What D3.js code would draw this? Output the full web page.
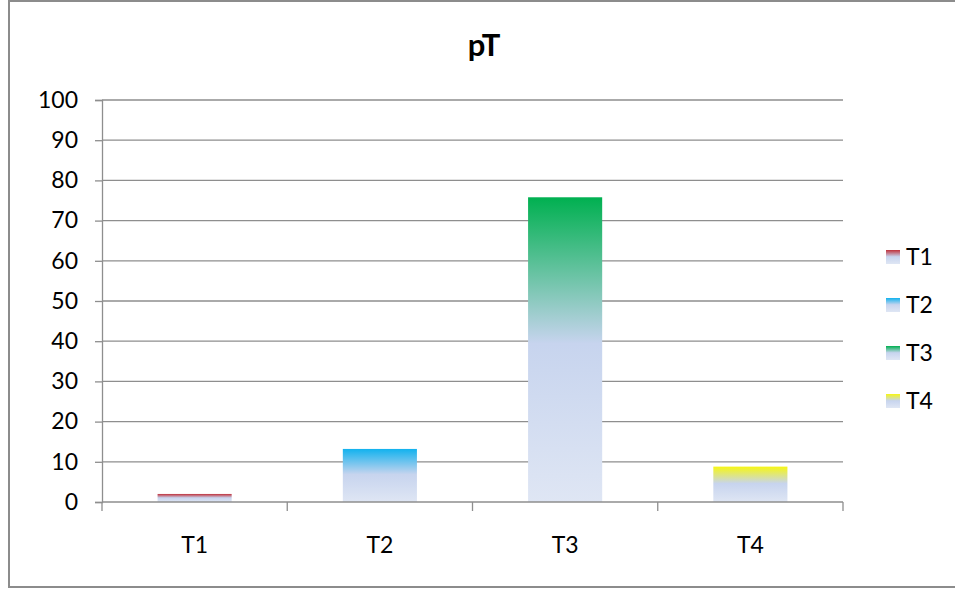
<!DOCTYPE html>
<html>
<head>
<meta charset="utf-8">
<script src="https://cdn.jsdelivr.net/npm/d3@7"></script>
<style>
  html, body { margin: 0; padding: 0; background: #fff; }
  svg { display: block; }
  text { font-family: Lato, "Liberation Sans", sans-serif; fill: #000; }
</style>
</head>
<body>
<svg id="chart" width="955" height="592"></svg>
<script>
// pT distribution by stage
const categories = ["T1", "T2", "T3", "T4"];
const values = [2.0, 13.2, 75.8, 8.8];
const seriesColors = ["#c0303a", "#12b2ee", "#00b050", "#f6f614"];
const yTicks = [0, 10, 20, 30, 40, 50, 60, 70, 80, 90, 100];
const title = "pT";

const svg = d3.select("#chart");
const plot = { left: 102, right: 843, top: 100, bottom: 502 };
const labelSize = "23px";

// outer frame (runs off the right edge)
svg.append("rect")
  .attr("x", 9).attr("y", 1)
  .attr("width", 960).attr("height", 586)
  .attr("fill", "#fff").attr("stroke", "#8c8c8c").attr("stroke-width", 2);

const x = d3.scaleBand().domain(categories).range([plot.left, plot.right]).paddingInner(0.6).paddingOuter(0.3);
const xBand = d3.scaleBand().domain(categories).range([plot.left, plot.right]);
const y = d3.scaleLinear().domain([0, 100]).range([plot.bottom, plot.top]);

// gradients: series colour at top fading into pale blue-lavender
const defs = svg.append("defs");
categories.forEach((c, i) => {
  const g = defs.append("linearGradient").attr("id", "grad" + i)
    .attr("x1", 0).attr("y1", 0).attr("x2", 0).attr("y2", 1);
  g.append("stop").attr("offset", "0%").attr("stop-color", seriesColors[i]);
  g.append("stop").attr("offset", "48%").attr("stop-color", "#c7d4ee");
  g.append("stop").attr("offset", "100%").attr("stop-color", "#dfe6f4");
});

// horizontal gridlines
svg.append("g").selectAll("line").data(yTicks.filter(d => d > 0)).join("line")
  .attr("x1", plot.left).attr("x2", plot.right)
  .attr("y1", d => y(d)).attr("y2", d => y(d))
  .attr("stroke", "#8e8e8e").attr("stroke-width", 1.3);

// bars
svg.append("g").selectAll("rect").data(values).join("rect")
  .attr("x", (d, i) => x(categories[i]))
  .attr("width", x.bandwidth())
  .attr("y", d => y(d))
  .attr("height", d => y(0) - y(d))
  .attr("fill", (d, i) => `url(#grad${i})`);

// y axis
const yAxis = svg.append("g").attr("transform", `translate(${plot.left},0)`)
  .call(d3.axisLeft(y).tickValues(yTicks).tickSize(7).tickPadding(17));
yAxis.select(".domain").attr("stroke", "#8e8e8e").attr("stroke-width", 1.3);
yAxis.selectAll(".tick line").attr("stroke", "#8e8e8e").attr("stroke-width", 1.3);
yAxis.selectAll("text").style("font-size", labelSize).attr("fill", "#000")
  .style("font-family", "Lato, 'Liberation Sans', sans-serif");

// x axis with ticks on category boundaries
const xAxisG = svg.append("g");
xAxisG.append("line")
  .attr("x1", plot.left).attr("x2", plot.right)
  .attr("y1", plot.bottom).attr("y2", plot.bottom)
  .attr("stroke", "#8e8e8e").attr("stroke-width", 1.3);
const bounds = categories.map(c => xBand(c)).concat([plot.right]);
xAxisG.selectAll("line.tk").data(bounds).join("line").attr("class", "tk")
  .attr("x1", d => d).attr("x2", d => d)
  .attr("y1", plot.bottom).attr("y2", plot.bottom + 9)
  .attr("stroke", "#8e8e8e").attr("stroke-width", 1.3);
xAxisG.selectAll("text").data(categories).join("text")
  .attr("x", d => xBand(d) + xBand.bandwidth() / 2)
  .attr("y", 553)
  .attr("text-anchor", "middle")
  .style("font-size", labelSize)
  .text(d => d);

// title
svg.append("text").attr("x", 484).attr("y", 56)
  .attr("text-anchor", "middle")
  .style("font-size", "31px").style("font-weight", "bold")
  .text(title);

// legend
const legend = svg.append("g");
categories.forEach((c, i) => {
  const ly = 257 + i * 48;
  legend.append("rect").attr("x", 886).attr("y", ly - 7).attr("width", 14).attr("height", 14)
    .attr("fill", `url(#grad${i})`);
  legend.append("text").attr("x", 906).attr("y", ly + 8)
    .style("font-size", labelSize).text(c);
});
</script>
</body>
</html>
